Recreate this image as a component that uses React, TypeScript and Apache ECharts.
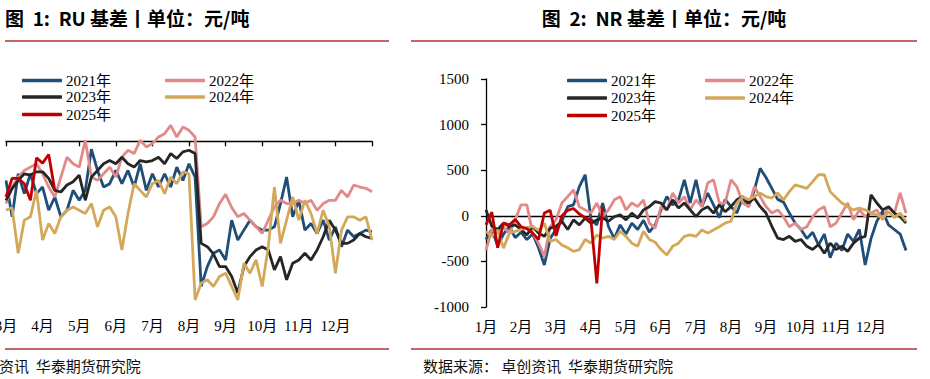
import React, { useEffect, useRef } from "react";
import * as echarts from "echarts";

const years = ["2021年", "2022年", "2023年", "2024年", "2025年"];
const colors = ["#1F4E79", "#E28A89", "#262626", "#D4A85A", "#C00000"];

const ruMonths = [3, 4, 5, 6, 7, 8, 9, 10, 11, 12];
const nrMonths = [1, 2, 3, 4, 5, 6, 7, 8, 9, 10, 11, 12];
const dayMarks = [1, 6, 11, 16, 21, 26];
const yearEnd = "12-31";

const nrYTicks = [-1000, -500, 0, 500, 1000, 1500];
const ruYRange = [-2500, 1000];

// RU basis (元/吨), March → year end, ~5-day steps
const ru2021 = [
  -590, -1140, -490, -790, -490, -790,
  -690, -1040, -840, -1140, -1040, -740,
  -890, -740, -120, -440, -690, -640,
  -440, -640, -440, -690, -340, -740,
  -490, -690, -490, -690, -390, -590,
  -340, -540, -2190, -1890, -1690, -1640,
  -1790, -1190, -1490, -1340, -1190, -1290,
  -1340, -1340, -1290, -940, -540, -1140,
  -890, -1340, -1240, -1390, -1190, -1490,
  -1290, -1590, -1340, -1440, -1390, -1340, -1365,
];
const ru2022 = [
  -940, -690, -540, -440, -390, -340,
  -490, -690, -840, -540, -240, -340,
  -390, 15, -540, -590, -490, -390,
  -540, -240, -135, -185, 15, -85,
  -35, 65, 115, 240, 65, 215,
  165, 65, -1290, -1240, -1140, -940,
  -800, -1000, -1140, -1090, -1190, -1290,
  -1390, -1190, -990, -890, -940, -940,
  -890, -940, -890, -1040, -940, -890,
  -890, -740, -840, -660, -690, -710, -760,
];
const ru2023 = [
  -890, -715, -590, -490, -510, -460,
  -460, -560, -740, -765, -660, -610,
  -510, -890, -540, -440, -340, -290,
  -340, -240, -340, -390, -290, -310,
  -290, -240, -340, -185, -260, -160,
  -135, -185, -1540, -1590, -1700, -1890,
  -1890, -2040, -2290, -1890, -1740, -1640,
  -1590, -1640, -1940, -1740, -2090, -1840,
  -1790, -1690, -1790, -1640, -1440, -1190,
  -1340, -1540, -1540, -1490, -1390, -1440, -1465,
];
const ru2024 = [
  -1040, -1000, -1690, -1190, -1140, -740,
  -1490, -1240, -1390, -1140, -1040, -990,
  -1040, -1090, -940, -1290, -1040, -990,
  -1140, -1640, -1090, -640, -740, -840,
  -640, -590, -790, -540, -640, -460,
  -490, -2395, -2140, -2090, -2190, -2040,
  -1990, -2190, -2395, -1840, -1990, -1790,
  -2190, -1590, -690, -1540, -1190, -840,
  -1190, -890, -1090, -1390, -1040, -1290,
  -1990, -1340, -1140, -1140, -1190, -1140, -1490,
];
const ru2025 = [-840, -560, -560, -640, -890, -250, -330, -200, -740];

// NR basis (元/吨), January → year end, ~5-day steps
const nr2021 = [
  -260, -150, -330, -200, -120, -240,
  -180, -260, -200, -350, -540, -250,
  -150, -60, 100, 120, 320, 450,
  -40, -100, 140, -120, -250, -100,
  -200, -80, -150, -50, -180, -100,
  65, 210, 120, 175, 395, 140,
  395, 100, 250, 120, -20, 180,
  100, 30, 200, 100, 280, 520,
  420, 300, 180, 150, 30, -80,
  -150, -250, -180, -320, -200, -460,
  -300, -380, -200, -280, -150, -540,
  -250, -60, 50, -100, -150, -200, -380,
];
const nr2022 = [
  -380, -150, -190, -120, -190, -45,
  120, 120, -190, -300, -445, -120,
  -45, 140, 210, 285, 100, 65,
  30, 140, -10, 65, 175, 210,
  65, 140, 100, 175, -80, -135,
  100, 65, 250, 140, 210, 65,
  175, 100, 360, 395, 140, 140,
  395, 320, 140, 100, 320, 210,
  100, 30, 65, -10, -120, -80,
  -150, -120, -10, 65, 100, -120,
  -80, 30, 140, -45, 65, -10,
  30, 65, -45, 100, 30, 250, 30,
];
const nr2023 = [
  65, -115, -150, -80, -115, -100,
  -150, -210, -115, -190, -225, -135,
  -115, -60, -150, -45, -100, -25,
  -80, -45, -25, -60, -10, 10,
  -45, 30, -25, 65, 100, 155,
  140, 65, 175, 85, 140, 65,
  -10, 65, 100, 30, 120, 45,
  100, 175, 210, 140, 195, 100,
  30, -115, -245, -260, -225, -280,
  -260, -335, -370, -315, -410, -300,
  -370, -335, -390, -300, -245, -225,
  230, 140, 65, 100, 30, -10, -80,
];
const nr2024 = [
  -170, -225, -155, -355, -190, -170,
  -150, -130, -115, -160, -80, -280,
  -260, -320, -350, -390, -370, -260,
  -300, -210, -245, -225, -260, -170,
  -225, -300, -335, -170, -260, -290,
  -370, -430, -335, -300, -225, -210,
  -225, -155, -190, -155, -120, -80,
  -60, 140, 210, 175, 210, 250,
  210, 195, 250, 175, 265, 340,
  320, 300, 375, 450, 450, 265,
  200, 140, 100, 65, 85, 65,
  30, 10, -25, 45, -20, 30, -60,
];
const nr2025 = [
  -100, 40, -350, -80, -100, -40,
  -120, -140, -190, -260, 30, 60,
  -220, 0, 60, 80, 20, -20,
  -50, -740, 100,
];

const ruSeries = [ru2021, ru2022, ru2023, ru2024, ru2025];
const nrSeries = [nr2021, nr2022, nr2023, nr2024, nr2025];

const makeCats = (months: number[]) => [
  ...months.flatMap((m) => dayMarks.map((d) => `${m}-${d}`)),
  yearEnd,
];
const ruCats = makeCats(ruMonths);
const nrCats = makeCats(nrMonths);

const SERIF = "'Liberation Serif', 'Noto Sans CJK SC', serif";
const HEI = "'Noto Sans CJK SC', sans-serif";

const monthLabel = (v: string) => {
  const [m, d] = v.split("-");
  return d === "1" ? `${m}月` : "";
};
const monthTick = (index: number) => index % dayMarks.length === 0;

// legend slot positions [left, top]
const ruLegendPos = [[22, 73], [165, 73], [22, 89.5], [165, 89.5], [22, 107]];
const nrLegendPos = [[567, 73], [705, 73], [567, 90.5], [705, 90.5], [567, 108]];

export default function App() {
  const ref = useRef<HTMLDivElement>(null);

  useEffect(() => {
    if (!ref.current) return;
    const chart = echarts.init(ref.current, undefined, { renderer: "svg" });

    const axisBlack = { color: "#000", width: 1.3 };
    const labelStyle = { fontFamily: SERIF, fontSize: 15, color: "#000" };

    const legends: any[] = [];
    years.forEach((y, i) => {
      [ruLegendPos, nrLegendPos].forEach((pos) => {
        legends.push({
          data: [y],
          left: pos[i][0],
          top: pos[i][1],
          padding: 0,
          itemGap: 0,
          itemWidth: 40,
          itemHeight: 3.5,
          icon: "roundRect",
          selectedMode: false,
          textStyle: { ...labelStyle, padding: [0, 0, 0, -1] },
        });
      });
    });

    const series: any[] = [];
    years.forEach((y, i) => {
      series.push({
        name: y,
        type: "line",
        xAxisIndex: 0,
        yAxisIndex: 0,
        data: ruSeries[i],
        symbol: "none",
        color: colors[i],
        lineStyle: { width: 2.8, color: colors[i] },
        z: 2 + i,
      });
      series.push({
        name: y,
        type: "line",
        xAxisIndex: 2,
        yAxisIndex: 1,
        data: nrSeries[i],
        symbol: "none",
        color: colors[i],
        lineStyle: { width: 2.8, color: colors[i] },
        z: 2 + i,
      });
    });

    const ruleColor = "#C46665";
    const titleStyle = {
      fontFamily: HEI,
      fontSize: 19,
      fontWeight: "bold",
      fill: "#000",
      verticalAlign: "middle",
    };

    chart.setOption({
      animation: false,
      backgroundColor: "#fff",
      grid: [
        { left: 6, top: 75, width: 366, height: 232, outerBoundsMode: "none", containLabel: false },
        { left: 486, top: 79, width: 420, height: 228, outerBoundsMode: "none", containLabel: false },
      ],
      xAxis: [
        {
          gridIndex: 0,
          type: "category",
          data: ruCats,
          boundaryGap: false,
          position: "bottom",
          axisLine: { onZero: true, lineStyle: axisBlack },
          axisTick: { show: true, interval: monthTick, length: 5, lineStyle: axisBlack },
          axisLabel: { show: false },
          splitLine: { show: false },
        },
        {
          gridIndex: 0,
          type: "category",
          data: ruCats,
          boundaryGap: false,
          position: "bottom",
          axisLine: { show: false, onZero: false },
          axisTick: { show: false },
          axisLabel: { interval: monthTick, formatter: monthLabel, margin: 11, ...labelStyle },
          splitLine: { show: false },
        },
        {
          gridIndex: 1,
          type: "category",
          data: nrCats,
          boundaryGap: false,
          position: "bottom",
          axisLine: { onZero: true, lineStyle: axisBlack },
          axisTick: { show: false },
          axisLabel: { show: false },
          splitLine: { show: false },
        },
        {
          gridIndex: 1,
          type: "category",
          data: nrCats,
          boundaryGap: false,
          position: "bottom",
          axisLine: { show: false, onZero: false },
          axisTick: { show: false },
          axisLabel: { interval: monthTick, formatter: monthLabel, margin: 12, ...labelStyle },
          splitLine: { show: false },
        },
      ],
      yAxis: [
        {
          gridIndex: 0,
          type: "value",
          min: ruYRange[0],
          max: ruYRange[1],
          axisLine: { show: false },
          axisTick: { show: false },
          axisLabel: { show: false },
          splitLine: { show: false },
        },
        {
          gridIndex: 1,
          type: "value",
          min: nrYTicks[0],
          max: nrYTicks[nrYTicks.length - 1],
          interval: nrYTicks[1] - nrYTicks[0],
          axisLine: { show: true, lineStyle: axisBlack },
          axisTick: { show: true, length: 5, lineStyle: axisBlack },
          axisLabel: { margin: 17, formatter: (v: number) => String(v), ...labelStyle },
          splitLine: { show: false },
        },
      ],
      legend: legends,
      series,
      graphic: [
        {
          type: "text",
          x: 5,
          y: 17,
          style: { ...titleStyle, text: "图  1:  RU 基差丨单位：元/吨", align: "left" },
        },
        {
          type: "text",
          x: 664,
          y: 17,
          style: { ...titleStyle, text: "图  2:  NR 基差丨单位：元/吨", align: "center" },
        },
        { type: "line", shape: { x1: 5, y1: 41, x2: 389, y2: 41 }, style: { stroke: ruleColor, lineWidth: 2 } },
        { type: "line", shape: { x1: 411, y1: 41, x2: 917, y2: 41 }, style: { stroke: ruleColor, lineWidth: 2 } },
        { type: "line", shape: { x1: 5, y1: 349, x2: 389, y2: 349 }, style: { stroke: ruleColor, lineWidth: 2 } },
        { type: "line", shape: { x1: 411, y1: 349, x2: 917, y2: 349 }, style: { stroke: ruleColor, lineWidth: 2 } },
        {
          type: "text",
          x: -1,
          y: 365,
          style: {
            text: "资讯  华泰期货研究院",
            fontFamily: HEI,
            fontSize: 15,
            fill: "#111",
            align: "left",
            verticalAlign: "middle",
          },
        },
        {
          type: "text",
          x: 423,
          y: 365,
          style: {
            text: "数据来源： 卓创资讯  华泰期货研究院",
            fontFamily: HEI,
            fontSize: 15,
            fill: "#111",
            align: "left",
            verticalAlign: "middle",
          },
        },
      ],
    });

    return () => chart.dispose();
  }, []);

  return (
    <div
      ref={ref}
      style={{ position: "absolute", left: 0, top: 0, width: 930, height: 379, background: "#fff" }}
    />
  );
}
